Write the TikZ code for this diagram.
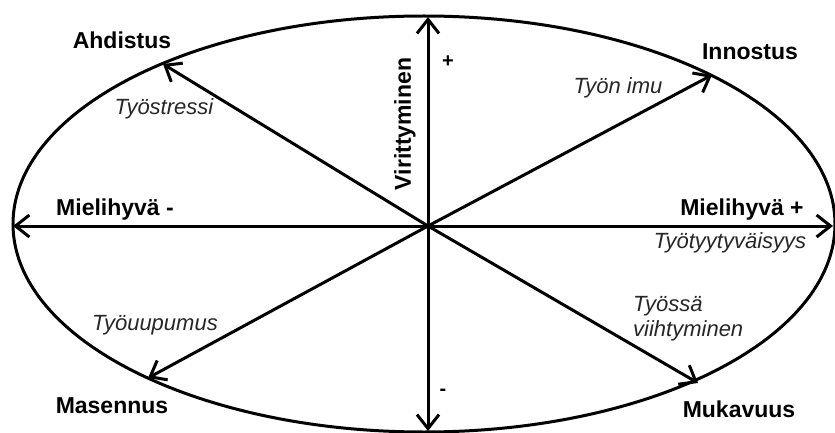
\documentclass[tikz,border=0pt]{standalone}
\usepackage{fontspec}
\setmainfont{Liberation Sans}
\usetikzlibrary{arrows.meta}
\tikzset{
  arr/.style={line width=3pt,-{Straight Barb[length=14pt,width=22pt,line width=3pt]}},
  lbl/.style={font=\fontsize{23}{25}\selectfont\bfseries,inner sep=0pt},
  sub/.style={font=\fontsize{22}{26}\selectfont\itshape,inner sep=0pt,text=black!85},
}
\begin{document}
\begin{tikzpicture}[x=1pt,y=-1pt]
\useasboundingbox (0,0) rectangle (835,433);
\draw[line width=3pt] (424,224) ellipse [x radius=411, y radius=208];
\coordinate (o) at (428,226);
\coordinate (up) at (428,17);
\coordinate (dn) at (428,431);
\coordinate (lt) at (13,226);
\coordinate (rt) at (833,226);
\coordinate (ul) at (163,64);
\coordinate (ur) at (712,75);
\coordinate (dl) at (148,378);
\coordinate (dr) at (698,383);
\foreach \t in {up,dn,lt,rt,ul,ur,dl,dr} \draw[arr] (o) -- (\t);
\node[lbl] (ahd) at (122,40) {Ahdistus};
\node[sub] (tst) at (164,109) {Työstressi};
\node[lbl] (inn) at (750,52) {Innostus};
\node[sub] (imu) at (618,88) {Työn imu};
\node[lbl,rotate=90] (vir) at (405,124) {Virittyminen};
\node[lbl,font=\fontsize{20}{22}\selectfont\bfseries] (plus) at (448,62) {+};
\node[lbl,font=\fontsize{20}{22}\selectfont\bfseries] (minus) at (443,392) {-};
\node[lbl] (mm) at (115,210) {Mielihyvä -};
\node[lbl] (mp) at (742,210) {Mielihyvä +};
\node[sub] (tty) at (730,243) {Työtyytyväisyys};
\node[sub] (tuu) at (155,325) {Työuupumus};
\node[lbl] (mas) at (112,406) {Masennus};
\node[sub,align=left,anchor=north west,font=\fontsize{22}{25}\selectfont\itshape] (tvi) at (633,296) {Työssä\\viihtyminen};
\node[lbl] (muk) at (739,409) {Mukavuus};
\end{tikzpicture}
\end{document}
